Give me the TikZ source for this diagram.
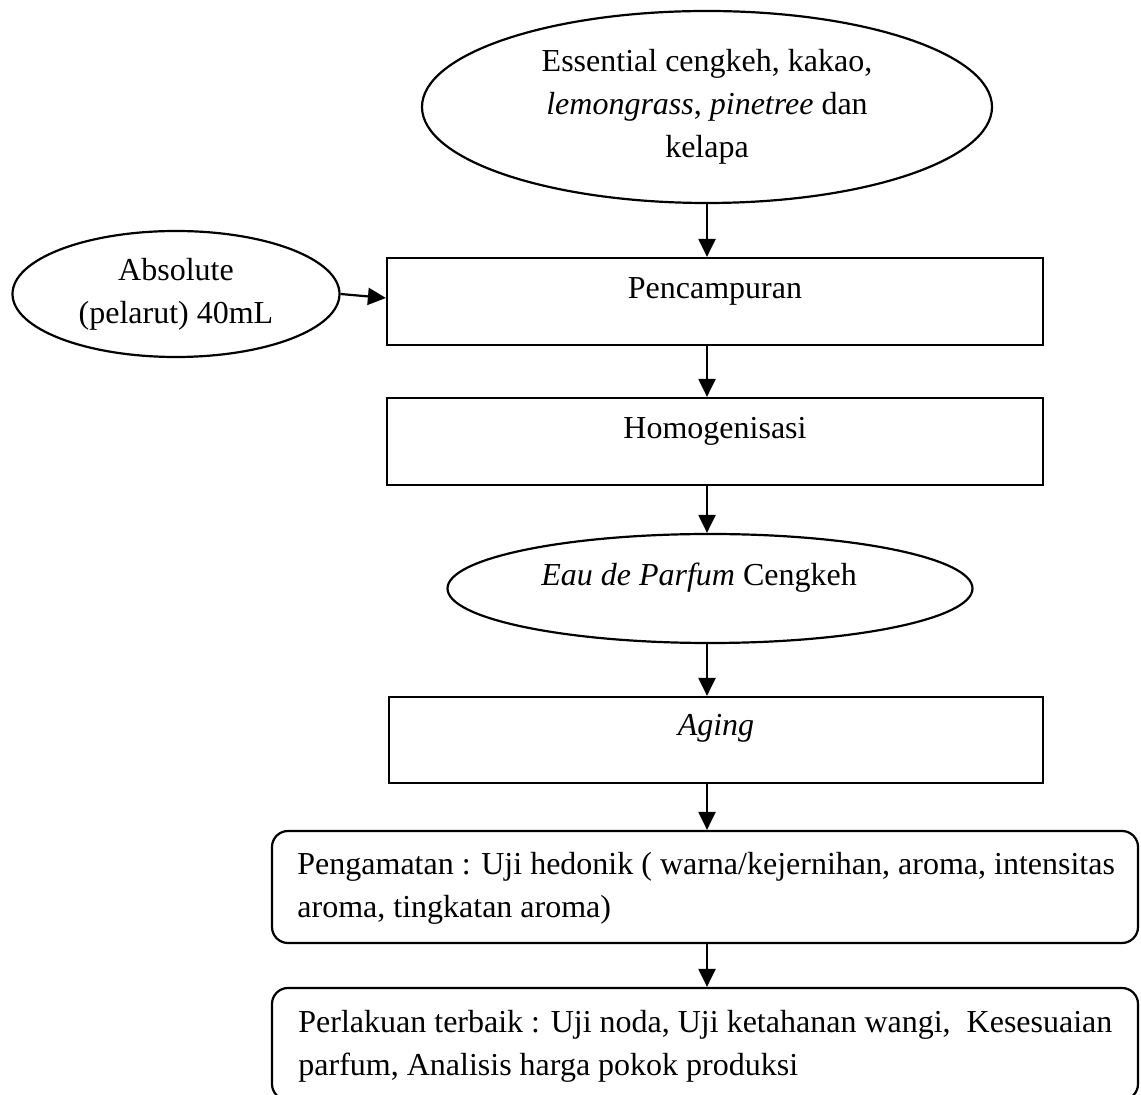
\documentclass[tikz,border=0pt]{standalone}
\usepackage{fontspec}
\setmainfont{Liberation Serif}
\usetikzlibrary{shapes.geometric,arrows.meta}
\begin{document}
\begin{tikzpicture}[x=0.5pt,y=-0.5pt,
  every node/.style={font=\fontsize{16}{21.5}\selectfont},
  shp/.style={draw,line width=1.1pt,inner sep=0pt},
  oval/.style={shp,ellipse,align=center},
  boxx/.style={shp,rectangle},
  rbox/.style={shp,rectangle,rounded corners=8pt},
  txt/.style={inner sep=0pt,align=center},
  ltxt/.style={inner sep=0pt,align=left,anchor=west},
  arr/.style={line width=1.1pt,-{Triangle[length=9pt,width=8.5pt]}}]
\useasboundingbox (0,0) rectangle (1141,1095);
\clip (0,0) rectangle (1141,1095);
\fill[white] (0,0) rectangle (1141,1095);

\node[oval,minimum width=285pt,minimum height=96pt] (top) at (707,107)
  {Essential cengkeh, kakao,\\ \textit{lemongrass}, \textit{pinetree} dan\\ kelapa};
\node[oval,minimum width=163.5pt,minimum height=63pt] (abs) at (176,294)
  {Absolute\\(pelarut) 40mL};

\node[boxx,minimum width=328pt,minimum height=43.5pt] (pen) at (715,301.5) {};
\node[txt] (pent) at (715,291) {Pencampuran};

\node[boxx,minimum width=328pt,minimum height=43.5pt] (hom) at (715,441.5) {};
\node[txt] (homt) at (715,431) {Homogenisasi};

\node[oval,minimum width=262.5pt,minimum height=54.5pt] (eau) at (710,588.5) {};
\node[txt] (eaut) at (699,578) {\textit{Eau de Parfum} Cengkeh};

\node[boxx,minimum width=327pt,minimum height=43pt] (aging) at (716,740) {};
\node[txt] (agingt) at (716,728) {\textit{Aging}};

\node[rbox,minimum width=433pt,minimum height=56pt] (peng) at (705,887) {};
\node[ltxt] (pengt) at (297,888)
  {Pengamatan : Uji hedonik ( warna/kejernihan, aroma, intensitas\\aroma, tingkatan aroma)};

\node[rbox,minimum width=433pt,minimum height=56pt] (perl) at (705,1044) {};
\node[ltxt] (perlt) at (298,1046)
  {Perlakuan terbaik : Uji noda, Uji ketahanan wangi, \ Kesesuaian\\parfum, Analisis harga pokok produksi};

\draw[arr] (top.south) -- (top.south |- pen.north);
\draw[arr] (abs.east) -- ([yshift=1.75pt]pen.west);
\draw[arr] (pen.south -| top.south) -- (hom.north -| top.south);
\draw[arr] (hom.south -| top.south) -- (eau.north -| top.south);
\draw[arr] (eau.south -| top.south) -- (aging.north -| top.south);
\draw[arr] (aging.south -| top.south) -- (peng.north -| top.south);
\draw[arr] (peng.south -| top.south) -- (perl.north -| top.south);
\end{tikzpicture}
\end{document}
